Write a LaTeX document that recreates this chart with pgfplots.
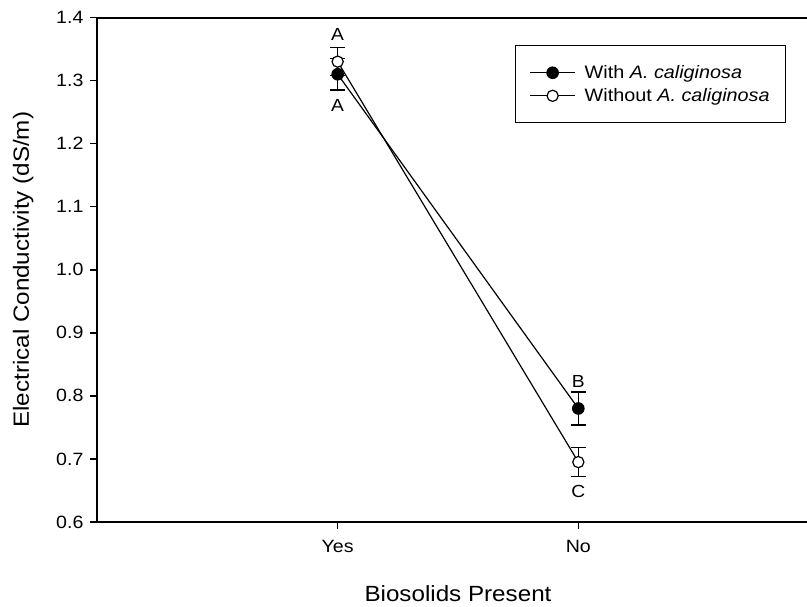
\documentclass[border=0pt]{standalone}
\usepackage{fontspec}
\setmainfont[FakeStretch=1.1]{Liberation Sans}
\usepackage{pgfplots}
\pgfplotsset{compat=1.18}

\newcommand{\ticksize}{\fontsize{17.8}{21}\selectfont}
\newcommand{\legendsize}{\fontsize{18}{22}\selectfont}
\newcommand{\lettersize}{\fontsize{17.5}{20}\selectfont}
\newcommand{\labelsize}{\fontsize{22}{26}\selectfont}

\begin{document}
\begin{tikzpicture}
% page frame: the axis box starts at the origin, its right side runs past the page edge
\useasboundingbox (-97pt,-85pt) rectangle (710pt,522pt);
\begin{axis}[
  at={(0pt,0pt)}, anchor=south west,
  scale only axis, width=722pt, height=504.5pt,
  xmin=0, xmax=3, ymin=0.6, ymax=1.4,
  xtick={1,2}, xticklabels={Yes,No},
  ytick={0.6,0.7,0.8,0.9,1.0,1.1,1.2,1.3,1.4},
  tick pos=left, tick align=outside, major tick length=7pt,
  axis line style={line width=2pt},
  tick style={line width=1.6pt, black},
  /pgf/number format/assume math mode=true,
  yticklabel style={xshift=-3pt, /pgf/number format/.cd, fixed, fixed zerofill, precision=1},
  every tick label/.append style={font=\ticksize},
  xticklabel style={yshift=-8pt},
  xlabel={Biosolids Present},
  ylabel={Electrical Conductivity (dS/m)},
  x label style={at={(axis description cs:0.5,-0.1574)}, anchor=base, font=\labelsize, inner sep=0pt},
  y label style={at={(axis description cs:-0.1168,0.5)}, anchor=north, font=\labelsize, inner sep=0pt},
  legend style={at={(0.579,0.9445)}, anchor=north west, draw=black, line width=1pt,
    font=\legendsize, inner xsep=14pt, inner ysep=17.5pt, row sep=4.5pt, column sep=7pt},
  legend cell align=left,
  legend image code/.code={\draw[mark repeat=2,mark phase=2,#1] plot coordinates {(0pt,0pt) (22.5pt,0pt) (45pt,0pt)};},
]
% with A. caliginosa (filled circles)
\addplot[black, line width=1.2pt, mark=*, mark size=5.8pt,
  mark options={fill=black, line width=1pt},
  error bars/.cd, y dir=both, y explicit,
  error bar style={line width=1.3pt},
  error mark options={rotate=90, mark size=7.5pt, line width=1.3pt}]
  coordinates {(1,1.31) +- (0,0.025) (2,0.78) +- (0,0.026)};
% without A. caliginosa (open circles)
\addplot[black, line width=1.2pt, mark=*, mark size=5.6pt,
  mark options={fill=white, line width=1.2pt},
  error bars/.cd, y dir=both, y explicit,
  error bar style={line width=1.3pt},
  error mark options={rotate=90, mark size=7.5pt, line width=1.3pt}]
  coordinates {(1,1.33) +- (0,0.022) (2,0.695) +- (0,0.023)};
\legend{With \textit{A. caliginosa}, Without \textit{A. caliginosa}}
% significance letters
\node[font=\lettersize] at (axis cs:1,1.3735) {A};
\node[font=\lettersize] at (axis cs:1,1.261) {A};
\node[font=\lettersize] at (axis cs:2,0.8225) {B};
\node[font=\lettersize] at (axis cs:2,0.648) {C};
\end{axis}
\end{tikzpicture}
\end{document}
